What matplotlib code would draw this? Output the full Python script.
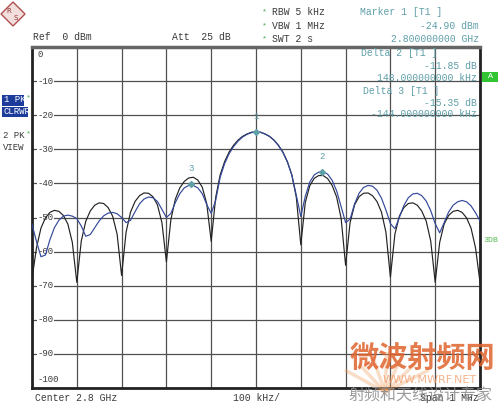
import matplotlib
matplotlib.use("Agg")
import matplotlib.pyplot as plt
from matplotlib.patches import Polygon, Rectangle

# frequency offset from 2.8 GHz centre, kHz
freq_khz = list(range(-500, 510, 10))

# trace 2 (PK VIEW), dBm
trace2 = [-68.0,
          -58.9, -53.1, -50.1, -48.5, -47.9, -48.2, -49.4, -51.9, -57.3, -69.0,
          -56.9, -51.1, -48.1, -46.4, -45.7, -45.9, -47.1, -49.6, -54.9, -67.0,
          -54.3, -48.4, -45.3, -43.6, -42.8, -42.9, -43.9, -46.3, -51.5, -63.0,
          -50.6, -44.6, -41.3, -39.4, -38.4, -38.2, -39.0, -41.1, -45.9, -57.0,
          -44.1, -37.5, -33.6, -30.8, -28.8, -27.3, -26.2, -25.5, -25.0, -24.9,
          -25.0, -25.5, -26.2, -27.3, -28.8, -30.8, -33.6, -37.5, -44.1, -58.0,
          -45.6, -40.7, -38.5, -37.7, -37.7, -38.6, -40.6, -44.0, -50.2, -64.0,
          -51.5, -46.3, -43.9, -42.9, -42.8, -43.6, -45.3, -48.4, -54.3, -67.5,
          -54.9, -49.6, -47.1, -45.9, -45.7, -46.4, -48.1, -51.1, -56.9, -69.0,
          -57.3, -51.9, -49.4, -48.2, -47.9, -48.5, -50.1, -53.1, -58.9, -69.0]

# trace 1 (PK CLRWR), dBm
trace1 = [-52.0,
          -57.0, -61.5, -61.0, -56.5, -53.0, -50.8, -49.6, -49.3, -49.6, -50.3,
          -52.5, -55.5, -55.0, -53.0, -51.0, -49.5, -48.7, -48.5, -48.9, -50.0,
          -51.5, -50.8, -48.3, -46.0, -44.6, -44.0, -44.2, -45.3, -47.6, -50.0,
          -48.8, -45.6, -43.0, -41.3, -40.6, -40.6, -41.3, -43.0, -46.2, -48.8,
          -45.0, -38.2, -34.2, -31.3, -29.2, -27.6, -26.4, -25.6, -25.1, -24.9,
          -25.0, -25.5, -26.2, -27.3, -28.9, -30.9, -33.7, -37.6, -43.5, -49.7,
          -43.8, -39.6, -37.5, -36.7, -36.6, -37.3, -39.1, -42.2, -46.8, -51.5,
          -50.5, -46.0, -42.9, -41.2, -40.6, -40.8, -42.0, -44.3, -47.8, -51.8,
          -53.3, -50.0, -46.5, -44.2, -43.1, -42.9, -43.6, -45.2, -48.0, -51.8,
          -54.5, -51.5, -48.4, -46.4, -45.4, -45.0, -45.4, -46.6, -48.6, -51.0]

marker_ids = ["1", "2", "3"]
marker_khz = [0, 148, -144]
marker_dbm = [-24.9, -36.75, -40.25]

ytick_vals = list(range(-10, -100, -10))

MONO = "Liberation Mono"
TEAL = "#5f9fa8"
DARK = "#3a3a3a"

fig = plt.figure(figsize=(5, 4.05), dpi=100)
ax = fig.add_axes([32/500, 1-388/405, 448/500, 341/405])
ax.set_xlim(-500, 500)
ax.set_ylim(-100, 0)
ax.set_xticks(range(-500, 501, 100))
ax.set_yticks(range(-100, 1, 10))
ax.grid(True, color="#505050", lw=0.9)
ax.tick_params(length=0, labelleft=False, labelbottom=False)
for side in ["left", "right", "bottom"]:
    ax.spines[side].set_linewidth(2)
    ax.spines[side].set_color("#222222")
ax.spines["top"].set_linewidth(2.5)
ax.spines["top"].set_color("#666666")

ax.plot(freq_khz, trace2, color="#222222", lw=0.85, zorder=3)
ax.plot(freq_khz, trace1, color="#34489a", lw=0.85, zorder=4)

for mid, mx, my in zip(marker_ids, marker_khz, marker_dbm):
    ax.plot(mx, my, marker="D", ms=3, color=TEAL, zorder=5)
    ax.text(mx, my + 3.2, mid, ha="center", va="bottom", fontsize=6.5,
            family=MONO, color=TEAL, zorder=5)

ytr = ax.get_yaxis_transform()
for v in ytick_vals:
    ax.text(0.012, v, str(v), transform=ytr, ha="left", va="center",
            fontsize=6.5, family=MONO, color=DARK, zorder=2,
            bbox=dict(fc="white", ec="none", pad=0.2))
ax.text(0.012, -2.2, "0", transform=ytr, ha="left", va="center",
        fontsize=6.5, family=MONO, color=DARK)
ax.text(0.012, -97.5, "-100", transform=ytr, ha="left", va="center",
        fontsize=6.5, family=MONO, color=DARK)

# overlay in pixel coordinates for the instrument annotations
ov = fig.add_axes([0, 0, 1, 1], zorder=5)
ov.set_xlim(0, 500)
ov.set_ylim(405, 0)
ov.axis("off")
ov.patch.set_alpha(0)

def t(x, y, s, ha="left", color=DARK, size=7, **kw):
    ov.text(x, y, s, ha=ha, va="center", fontsize=size, family=MONO,
            color=color, **kw)

# R&S logo
ov.add_patch(Polygon([(13, 2), (25, 14), (13, 26), (1, 14)], closed=True,
                     fc="#f3dede", ec="#b05050", lw=1))
ov.text(9, 11, "R", fontsize=5, color="#903030", ha="center", va="center")
ov.text(16, 18, "S", fontsize=5, color="#903030", ha="center", va="center")

t(33, 37, "Ref  0 dBm")
t(172, 37, "Att  25 dB")
for yy, s in [(12, "RBW 5 kHz"), (26, "VBW 1 MHz"), (39, "SWT 2 s")]:
    t(262, yy, "*", color="#4caa4c", size=6)
    t(272, yy, s)

t(360, 12, "Marker 1 [T1 ]", color=TEAL)
t(479, 26, "-24.90 dBm", ha="right", color=TEAL)
t(479, 39, "2.800000000 GHz", ha="right", color=TEAL)

t(361, 53, "Delta 2 [T1 ]", color=TEAL)
t(477, 66, "-11.85 dB", ha="right", color=TEAL)
t(477, 78, "148.000000000 kHz", ha="right", color=TEAL)
t(363, 91, "Delta 3 [T1 ]", color=TEAL)
t(477, 103, "-15.35 dB", ha="right", color=TEAL)
t(477, 114, "-144.000000000 kHz", ha="right", color=TEAL)

ov.add_patch(Rectangle((482, 72), 16, 10, fc="#33c433", ec="none"))
ov.text(490, 77, "A", fontsize=6, color="white", ha="center", va="center",
        family=MONO)
t(483, 240, "3DB", color="#55bb55", size=6)

ov.add_patch(Rectangle((2, 95), 22, 11, fc="#1c3c9c", ec="none"))
ov.add_patch(Rectangle((2, 107), 26, 10, fc="#1c3c9c", ec="none"))
t(4, 100, "1 PK", color="white", size=6.5)
t(3, 112, "CLRWR", color="white", size=6.5)
t(26, 98, "*", color="#4caa4c", size=6)
t(3, 136, "2 PK", size=6.5)
t(3, 147, "VIEW", size=6.5)
t(26, 134, "*", color="#4caa4c", size=6)

t(35, 398, "Center 2.8 GHz")
t(233, 398, "100 kHz/")
t(420, 398, "Span 1 MHz")

# site watermark
for k in range(7):
    x2 = 345 + k * 14
    ov.plot([385, x2], [392, 352 + abs(k - 3) * 6], color="#f0a060",
            lw=2.5, alpha=0.35, solid_capstyle="butt")
cjk = ["Noto Sans CJK SC", "DejaVu Sans"]
ov.text(422, 358, "微波射频网", fontsize=21, fontweight="bold",
        color="#e0642e", alpha=0.85, ha="center", va="center", family=cjk)
ov.text(430, 380, "WWW.MWRF.NET", fontsize=8, color="#f0a070", alpha=0.8,
        ha="center", va="center", family="DejaVu Sans")
ov.text(420, 396, "射频和天线设计专家", fontsize=11.5, color="#8a8a8a",
        alpha=0.85, ha="center", va="center", family=cjk)

fig.savefig("out.png", dpi=100)
